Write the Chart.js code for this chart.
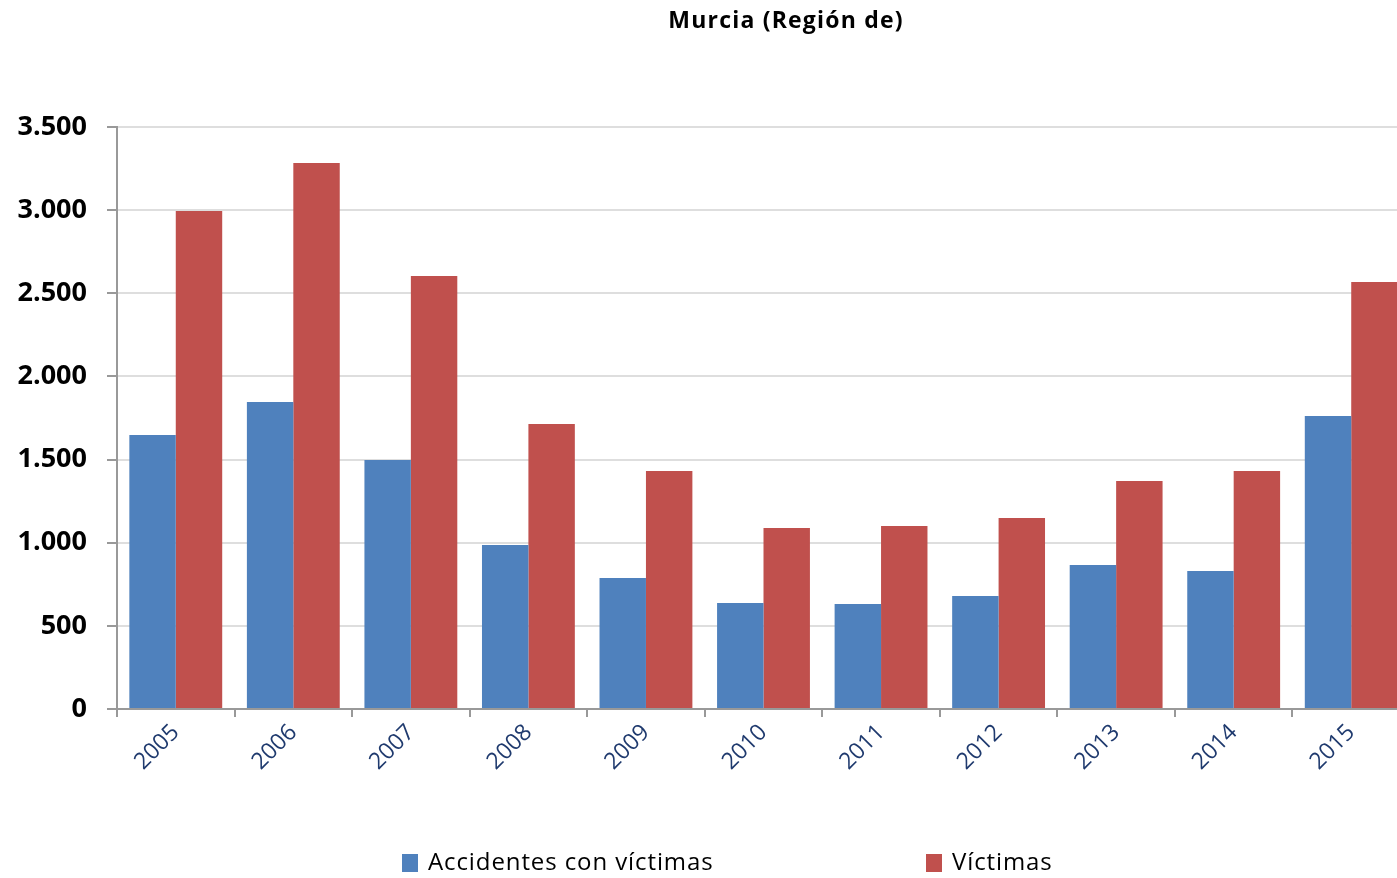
<!DOCTYPE html>
<html>
<head>
<meta charset="utf-8">
<script src="https://cdn.jsdelivr.net/npm/chart.js@4/dist/chart.umd.min.js"></script>
<style>
  html, body { margin: 0; padding: 0; background: #fff; overflow: hidden; }
  #wrap { position: relative; width: 1415px; height: 878px; }
  #title {
    position: absolute; top: 3px; left: 786px; transform: translateX(-50%);
    font: bold 23px "Open Sans", sans-serif; letter-spacing: 1.2px; color: #000; white-space: nowrap;
  }
  .leg { position: absolute; top: 845px; font: 24px "Open Sans", sans-serif; letter-spacing: 0.9px; color: #000; white-space: nowrap; line-height: 32px; }
  .leg i { display: inline-block; width: 16px; height: 18px; vertical-align: -2px; margin-right: 10px; }
</style>
</head>
<body>
<div id="wrap">
  <canvas id="chart"></canvas>
  <div id="title">Murcia (Región de)</div>
  <div class="leg" style="left:402px"><i style="background:#4F81BD"></i>Accidentes con víctimas</div>
  <div class="leg" style="left:926px"><i style="background:#C0504D"></i>Víctimas</div>
</div>
<script>
const years = ["2005", "2006", "2007", "2008", "2009", "2010", "2011", "2012", "2013", "2014", "2015"]
const accidentes = [1648, 1846, 1497, 986, 788, 637, 631, 680, 866, 830, 1762]
const victimas = [2995, 3284, 2604, 1714, 1431, 1089, 1101, 1149, 1371, 1431, 2568]

// thousands separator with a dot, e.g. 3.500
const fmt = v => String(v).replace(/\B(?=(\d{3})+(?!\d))/g, ".")

new Chart(document.getElementById("chart"), {
  type: "bar",
  data: {
    labels: years,
    datasets: [
      { label: "Accidentes con víctimas", data: accidentes, backgroundColor: "#4F81BD" },
      { label: "Víctimas", data: victimas, backgroundColor: "#C0504D" }
    ]
  },
  options: {
    responsive: true,
    maintainAspectRatio: false,
    animation: false,
    categoryPercentage: 0.79,
    barPercentage: 1,
    layout: { padding: { top: 127, right: 5, left: 0, bottom: 0 } },
    plugins: { legend: { display: false }, tooltip: { enabled: false }, title: { display: false } },
    scales: {
      x: {
        afterFit: s => { s.height = 169 },
        border: { color: "#999", width: 2 },
        grid: { drawOnChartArea: false, drawTicks: true, tickLength: 8, tickColor: "#999", lineWidth: 2, offset: true },
        ticks: {
          minRotation: 45, maxRotation: 45, padding: 2,
          color: "#1F3A6E",
          font: { family: "Open Sans", size: 23 }
        }
      },
      y: {
        min: 0, max: 3500,
        afterFit: s => { s.width = 117 },
        border: { color: "#999", width: 2 },
        grid: { color: "#dedede", lineWidth: 2, tickLength: 10, tickColor: "#999" },
        ticks: {
          stepSize: 500, padding: 20, color: "#000",
          font: { family: "Open Sans", size: 27, weight: "bold" },
          callback: v => fmt(v)
        }
      }
    }
  }
})
</script>
</body>
</html>
